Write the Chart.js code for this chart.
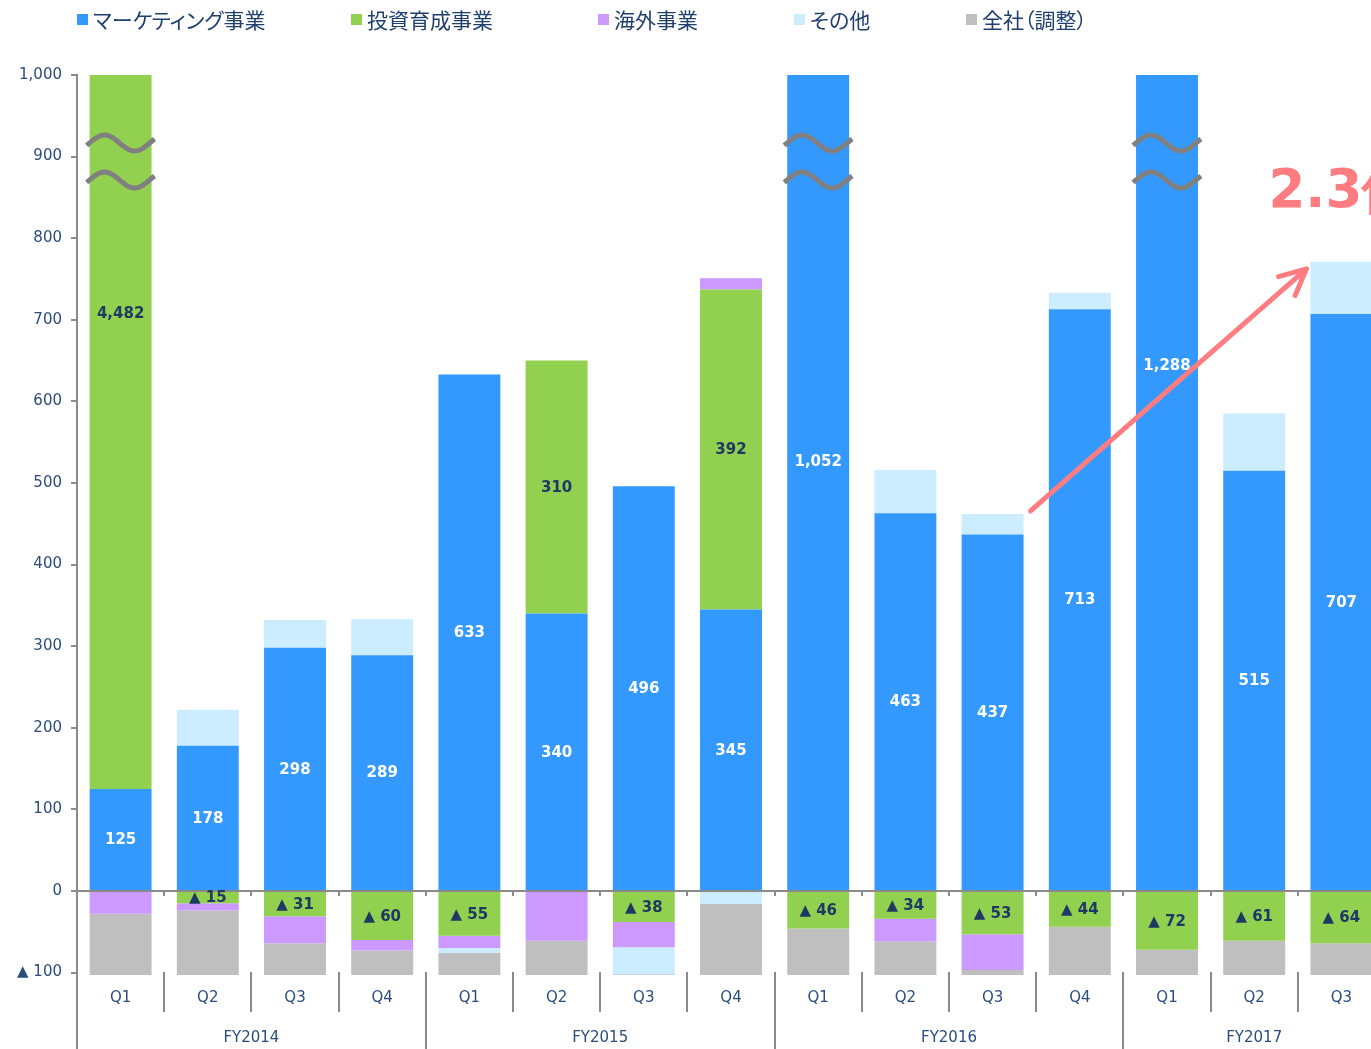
<!DOCTYPE html>
<html lang="ja">
<head>
<meta charset="utf-8">
<script src="https://cdn.jsdelivr.net/npm/chart.js@4.4.1/dist/chart.umd.min.js"></script>
<style>
    html, body { margin: 0; padding: 0; background: #fff; overflow: hidden; }
    #wrap { position: relative; width: 1385px; height: 1049px; }
    #chart { position: absolute; left: 0; top: 0; }
    #legend {
        position: absolute; left: 77px; top: 5px; z-index: 2;
        display: grid; grid-template-columns: 274px 247px 196px 172px auto;
        font-family: "Noto Sans CJK JP", sans-serif; font-size: 21px; color: #1F3F6E;
        font-feature-settings: "palt"; line-height: 28px;
    }
    #legend .item { display: flex; align-items: center; white-space: nowrap; }
    #legend .box { width: 11px; height: 11px; margin-right: 5px; flex: none; }
</style>
</head>
<body>
<div id="wrap">
    <div id="legend"></div>
    <canvas id="chart" width="1385" height="1049"></canvas>
</div>
<script>
const quarters = ['Q1', 'Q2', 'Q3', 'Q4', 'Q1', 'Q2', 'Q3', 'Q4', 'Q1', 'Q2', 'Q3', 'Q4', 'Q1', 'Q2', 'Q3'];
const fiscalYears = ['FY2014', 'FY2015', 'FY2016', 'FY2017'];
const quartersPerYear = [4, 4, 4, 3];

// 百万円, negatives shown as ▲
const marketing = [125, 178, 298, 289, 633, 340, 496, 345, 1052, 463, 437, 713, 1288, 515, 707];
const investment = [4482, -15, -31, -60, -55, 310, -38, 392, -46, -34, -53, -44, -72, -61, -64];
const overseas = [-28, -9, -33, -13, -15, -61, -31, 14, 0, -28, -44, 0, 0, 0, 0];
const other = [0, 44, 34, 44, -6, 0, -33, -16, 0, 53, 25, 20, 0, 70, 64];
const corporate = [-77, -81, -41, -32, -29, -44, -3, -89, -59, -43, -8, -61, -33, -44, -41];

const yTicks = [-100, 0, 100, 200, 300, 400, 500, 600, 700, 800, 900, 1000];
const growthText = '2.3倍';
const growthFrom = 10;
const growthTo = 14;

const colors = {
    marketing: '#3399FF',
    investment: '#92D050',
    overseas: '#CC99FF',
    other: '#CCECFF',
    corporate: '#BFBFBF',
    axis: '#8A8A8A',
    text: '#2B4C7E',
    label: '#1F3864',
    accent: '#FF7C80',
};

const fmt = (v) => (v < 0 ? '▲ ' + Math.abs(v) : v.toLocaleString('en-US'));

function stackTop(chart, i) {
    return chart.data.datasets.reduce((sum, ds) => sum + Math.max(ds.data[i], 0), 0);
}

// Q / FY category axis drawn along the chart bottom, plus the zero line
const groupAxis = {
    id: 'groupAxis',
    afterDatasetsDraw(chart) {
        const { ctx, chartArea: area, scales: { x, y } } = chart;
        const step = x.getPixelForValue(1) - x.getPixelForValue(0);
        const y0 = Math.round(y.getPixelForValue(0));
        const h = chart.height;
        const yearStarts = [];
        let n = 0;
        quartersPerYear.forEach((q) => { yearStarts.push(n); n += q; });

        ctx.save();
        ctx.strokeStyle = colors.axis;
        ctx.lineWidth = 2;
        ctx.beginPath();
        ctx.moveTo(area.left, y0);
        ctx.lineTo(area.right, y0);
        for (let i = 1; i <= quarters.length; i++) {
            const bx = Math.round(x.getPixelForValue(i) - step / 2);
            ctx.moveTo(bx, y0);
            ctx.lineTo(bx, y0 + 5);
            const isYear = yearStarts.includes(i);
            ctx.moveTo(bx, area.bottom - 3);
            ctx.lineTo(bx, isYear ? h : area.bottom + 37);
        }
        ctx.moveTo(area.left, area.bottom);
        ctx.lineTo(area.left, h);
        ctx.stroke();

        ctx.fillStyle = colors.text;
        ctx.font = '15px "DejaVu Sans"';
        ctx.textAlign = 'center';
        ctx.textBaseline = 'middle';
        quarters.forEach((q, i) => ctx.fillText(q, x.getPixelForValue(i), area.bottom + 23));
        fiscalYears.forEach((fy, k) => {
            const first = yearStarts[k];
            const last = first + quartersPerYear[k] - 1;
            const cx = (x.getPixelForValue(first) + x.getPixelForValue(last)) / 2;
            ctx.fillText(fy, cx, area.bottom + 63);
        });
        ctx.restore();
    },
};

// wavy break marks on bars that run past the axis maximum
const breakMarks = {
    id: 'breakMarks',
    afterDatasetsDraw(chart) {
        const { ctx, chartArea: area, scales: { y } } = chart;
        const meta = chart.getDatasetMeta(0);
        ctx.save();
        ctx.strokeStyle = '#808080';
        ctx.lineWidth = 5;
        meta.data.forEach((bar, i) => {
            if (stackTop(chart, i) <= y.max) return;
            const left = bar.x - bar.width / 2 - 3;
            const w = bar.width + 6;
            [68, 105].forEach((off) => {
                const c = area.top + off;
                ctx.beginPath();
                for (let s = 0; s <= 40; s++) {
                    const t = s / 40;
                    const th = -0.3 + t * 7.1;
                    const px = left + t * w;
                    const py = c - 8 * Math.sin(th);
                    if (s === 0) ctx.moveTo(px, py); else ctx.lineTo(px, py);
                }
                ctx.stroke();
            });
        });
        ctx.restore();
    },
};

// value labels for marketing (white) and investment (navy)
const segmentLabels = {
    id: 'segmentLabels',
    afterDatasetsDraw(chart) {
        const { ctx, chartArea: area, scales: { y } } = chart;
        ctx.save();
        ctx.font = 'bold 15px "DejaVu Sans"';
        ctx.textAlign = 'center';
        ctx.textBaseline = 'middle';
        [0, 1].forEach((di) => {
            const meta = chart.getDatasetMeta(di);
            meta.data.forEach((bar, i) => {
                const v = chart.data.datasets[di].data[i];
                if (!v) return;
                let cy = (bar.y + bar.base) / 2;
                if (cy < area.top) cy = y.getPixelForValue(708);
                ctx.fillStyle = di === 0 ? '#fff' : colors.label;
                ctx.fillText(fmt(v), bar.x, cy + 1);
            });
        });
        ctx.restore();
    },
};

const growthArrow = {
    id: 'growthArrow',
    afterDraw(chart) {
        const { ctx, scales: { y } } = chart;
        const meta = chart.getDatasetMeta(0);
        const a = meta.data[growthFrom];
        const b = meta.data[growthTo];
        const x1 = a.x + a.width / 2 + 7;
        const y1 = y.getPixelForValue(stackTop(chart, growthFrom)) - 3;
        const x2 = b.x - b.width / 2 - 4;
        const y2 = y.getPixelForValue(stackTop(chart, growthTo)) + 7;
        const ang = Math.atan2(y2 - y1, x2 - x1);
        const len = 29;

        ctx.save();
        ctx.strokeStyle = colors.accent;
        ctx.lineWidth = 5;
        ctx.lineCap = 'round';
        ctx.lineJoin = 'round';
        ctx.beginPath();
        ctx.moveTo(x1, y1);
        ctx.lineTo(x2, y2);
        ctx.moveTo(x2 - len * Math.cos(ang - 0.45), y2 - len * Math.sin(ang - 0.45));
        ctx.lineTo(x2, y2);
        ctx.lineTo(x2 - len * Math.cos(ang + 0.45), y2 - len * Math.sin(ang + 0.45));
        ctx.stroke();

        ctx.fillStyle = colors.accent;
        ctx.font = 'bold 53px "DejaVu Sans"';
        ctx.textAlign = 'left';
        ctx.textBaseline = 'alphabetic';
        ctx.fillText(growthText, x2 - 38, y2 - 62);
        ctx.restore();
    },
};

const chart = new Chart(document.getElementById('chart'), {
    type: 'bar',
    data: {
        labels: quarters,
        datasets: [
            { label: 'マーケティング事業', data: marketing, backgroundColor: colors.marketing },
            { label: '投資育成事業', data: investment, backgroundColor: colors.investment },
            { label: '海外事業', data: overseas, backgroundColor: colors.overseas },
            { label: 'その他', data: other, backgroundColor: colors.other },
            { label: '全社（調整）', data: corporate, backgroundColor: colors.corporate },
        ],
    },
    options: {
        responsive: false,
        animation: false,
        layout: { padding: { top: 75, bottom: 74, left: 0, right: 0 } },
        datasets: { bar: { categoryPercentage: 1, barPercentage: 0.71 } },
        plugins: { legend: { display: false }, tooltip: { enabled: false } },
        scales: {
            x: { stacked: true, display: false },
            y: {
                stacked: true,
                min: -103,
                max: 1000,
                afterBuildTicks: (s) => { s.ticks = yTicks.map((v) => ({ value: v })); },
                afterFit: (s) => { s.width = 77; },
                grid: { drawOnChartArea: false, tickLength: 6, color: colors.axis, lineWidth: 2 },
                border: { color: colors.axis, width: 2 },
                ticks: {
                    padding: 9,
                    color: colors.text,
                    font: { family: 'DejaVu Sans', size: 15 },
                    callback: (v) => fmt(v),
                },
            },
        },
    },
    plugins: [groupAxis, breakMarks, segmentLabels, growthArrow],
});

const legend = document.getElementById('legend');
chart.data.datasets.forEach((ds) => {
    const item = document.createElement('div');
    item.className = 'item';
    const box = document.createElement('span');
    box.className = 'box';
    box.style.background = ds.backgroundColor;
    const text = document.createElement('span');
    text.textContent = ds.label;
    item.append(box, text);
    legend.appendChild(item);
});
</script>
</body>
</html>
